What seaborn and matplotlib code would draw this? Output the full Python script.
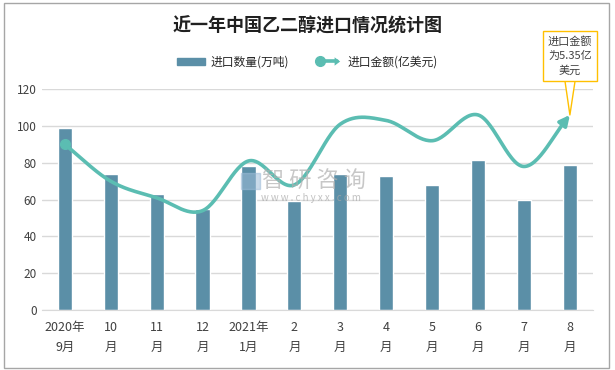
import numpy as np
import pandas as pd
import matplotlib
matplotlib.use('Agg')
import matplotlib.pyplot as plt
import seaborn as sns
from matplotlib.lines import Line2D
from matplotlib.patches import Patch, Rectangle, FancyArrowPatch
from matplotlib.legend_handler import HandlerBase

# data
months = ['2020年\n9月', '10\n月', '11\n月', '12\n月', '2021年\n1月', '2\n月',
          '3\n月', '4\n月', '5\n月', '6\n月', '7\n月', '8\n月']
volume = [99, 74, 63, 55, 78, 59, 74, 73, 68, 81.5, 60, 79]          # 进口数量(万吨)
amount = [90, 70, 61, 54, 81, 68, 101, 103, 92, 106, 78, 106]       # 进口金额(亿美元), as plotted
yticks = [0, 20, 40, 60, 80, 100, 120]

bar_color = '#5B8FA7'
line_color = '#5BBDB2'

sns.set_style('white')
plt.rcParams['font.family'] = ['Noto Sans CJK SC', 'DejaVu Sans']

df = pd.DataFrame({'month': months, 'volume': volume, 'amount': amount})

fig = plt.figure(figsize=(6.15, 3.7), dpi=100)
ax = fig.add_axes([0.068, 0.162, 0.896, 0.597])

sns.barplot(data=df, x='month', y='volume', color=bar_color, width=0.31,
            saturation=1, ax=ax, zorder=2)


# smooth line like excel (catmull-rom through the points)
def smooth(ys, n=30):
    p = np.array(ys, dtype=float)
    p = np.concatenate([[2 * p[0] - p[1]], p, [2 * p[-1] - p[-2]]])
    xs_out, ys_out = [], []
    for i in range(1, len(p) - 2):
        t = np.linspace(0, 1, n, endpoint=False)
        p0, p1, p2, p3 = p[i - 1], p[i], p[i + 1], p[i + 2]
        y = 0.5 * ((2 * p1) + (-p0 + p2) * t + (2 * p0 - 5 * p1 + 4 * p2 - p3) * t ** 2
                   + (-p0 + 3 * p1 - 3 * p2 + p3) * t ** 3)
        xs_out.extend(i - 1 + t)
        ys_out.extend(y)
    xs_out.append(len(ys) - 1)
    ys_out.append(ys[-1])
    return np.array(xs_out), np.array(ys_out)


sx, sy = smooth(amount)
ax.plot(sx[:-3], sy[:-3], color=line_color, lw=2.6, zorder=3, solid_capstyle='round')
ax.plot(0, amount[0], 'o', color=line_color, ms=7, zorder=4)
ax.annotate('', xy=(sx[-1], sy[-1]), xytext=(sx[-5], sy[-5]),
            arrowprops=dict(arrowstyle='-|>,head_length=0.6,head_width=0.3',
                            color=line_color, lw=2.6, shrinkA=0, shrinkB=0), zorder=4)

ax.set_ylim(0, 120)
ax.set_xlim(-0.5, len(months) - 0.5)
ax.set_yticks(yticks)
ax.set_xlabel('')
ax.set_ylabel('')
ax.yaxis.grid(True, color='#D9D9D9', lw=1)
ax.set_axisbelow(True)
for s in ['top', 'right', 'left']:
    ax.spines[s].set_visible(False)
ax.spines['bottom'].set_color('#D9D9D9')
ax.tick_params(axis='both', length=0, labelsize=8.5, colors='#404040')
ax.tick_params(axis='x', pad=8)
for lab in ax.get_xticklabels():
    lab.set_linespacing(1.7)
    lab.set_fontsize(9)

# watermark
fig.text(0.51, 0.51, '智 研 咨 询', fontsize=16, color='#B0B0B0', alpha=0.7,
         ha='center', va='center')
fig.text(0.505, 0.465, 'w w w . c h y x x . c o m', fontsize=7, color='#A8A8A8',
         alpha=0.7, ha='center', va='center')
fig.patches.append(Rectangle((0.392, 0.488), 0.03, 0.045, transform=fig.transFigure,
                             color='#9DBCD8', alpha=0.55))

# callout
ax.annotate('进口金额\n为5.35亿\n美元', xy=(len(months) - 1, amount[-1]),
            xytext=(0.927, 0.849), textcoords='figure fraction',
            ha='center', va='center', fontsize=8, linespacing=1.5, color='#404040',
            bbox=dict(boxstyle='square,pad=0.45', fc='white', ec='#FFC000', lw=1),
            arrowprops=dict(arrowstyle='wedge,tail_width=0.9,shrink_factor=0.5',
                            fc='white', ec='#FFC000', lw=1, shrinkA=0, shrinkB=0),
            annotation_clip=False, zorder=6)


# legend handler: line with circle start and arrow end
class ArrowLineHandler(HandlerBase):
    def create_artists(self, legend, orig_handle, xd, yd, width, height, fontsize, trans):
        y = height / 2 - yd
        x0, x1 = -xd + 4, -xd + width
        ln = Line2D([x0, x1 - 4], [y, y], color=line_color, lw=2.6, transform=trans)
        dot = Line2D([x0], [y], marker='o', color=line_color, ms=7, transform=trans)
        arr = FancyArrowPatch((x1 - 8, y), (x1, y), arrowstyle='-|>,head_length=4,head_width=3',
                              color=line_color, lw=0, transform=trans)
        return [ln, dot, arr]


handles = [Patch(color=bar_color), Line2D([], [], color=line_color)]
fig.legend(handles, ['进口数量(万吨)', '进口金额(亿美元)'], loc='center',
           bbox_to_anchor=(0.5, 0.832), ncol=2, frameon=False, fontsize=8.5,
           handlelength=2.4, handleheight=0.6, columnspacing=2.2, handletextpad=0.4,
           handler_map={handles[1]: ArrowLineHandler()})

fig.suptitle('近一年中国乙二醇进口情况统计图', x=0.5, y=0.955, fontsize=13,
             fontweight='bold', color='#202020')

fig.patches.append(Rectangle((0.006, 0.006), 0.984, 0.985, transform=fig.transFigure,
                             fill=False, ec='#A6A6A6', lw=1))

fig.savefig('out.png', dpi=100)
